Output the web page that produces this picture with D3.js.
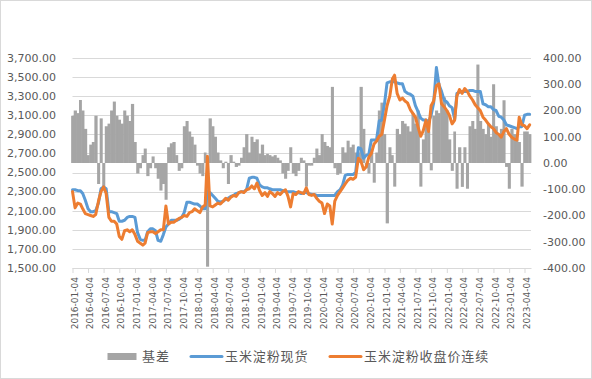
<!DOCTYPE html>
<html><head><meta charset="utf-8">
<script src="https://cdn.jsdelivr.net/npm/d3@7"></script>
<style>body{margin:0;background:#fff}svg{display:block}</style>
</head><body><svg id="c" width="592" height="379"></svg>
<script>
// Semi-monthly sample dates (4th and 19th of each month), Jan 2016 – May 2023
const dates = d3.range(177).map(h => {
  const m = Math.floor(h / 2);
  return new Date(2016 + Math.floor(m / 12), m % 12, h % 2 ? 19 : 4);
});
// 玉米淀粉现货 (spot)
const spot = [2320,2320,2310,2310,2280,2210,2120,2090,2090,2100,2180,2330,
2350,2330,2090,2090,2080,2070,1990,1990,2000,2030,2040,2040,
2030,1870,1800,1790,1790,1880,1910,1910,1890,1790,1780,1850,
1930,1960,2000,2000,2000,2010,2030,2080,2190,2190,2180,2170,
2170,2150,2120,2120,2300,2290,2260,2230,2200,2190,2200,2220,
2230,2250,2260,2280,2290,2300,2300,2320,2440,2450,2450,2440,
2370,2350,2340,2340,2330,2320,2320,2320,2320,2310,2300,2300,
2300,2300,2290,2290,2280,2290,2290,2280,2270,2270,2260,2260,
2260,2260,2260,2260,2260,2260,2300,2320,2370,2470,2480,2480,
2480,2500,2760,2750,2650,2680,2690,2840,2840,2850,3040,3050,
3220,3440,3450,3450,3450,3440,3430,3430,3350,3330,3320,3300,
3200,3140,3070,3050,3050,3030,3100,3230,3600,3420,3350,3260,
3240,3200,3180,3060,3330,3340,3350,3350,3350,3360,3360,3350,
3350,3350,3220,3210,3190,3190,3160,3150,3090,3080,3050,3000,
2990,2980,2970,2960,2980,2980,3100,3110,3110];
// 玉米淀粉收盘价连续 (futures)
const futures = [2300,2130,2180,2170,2120,2070,2060,2050,2040,2060,2200,2300,
2350,2280,2030,1990,1990,1960,1830,1800,1890,1900,1880,1900,
1850,1780,1760,1740,1760,1870,1880,1880,1860,1880,1900,1900,
2150,1960,1980,1980,2000,2020,2030,2050,2040,2080,2090,2120,
2100,2080,2140,2160,2670,2150,2140,2160,2180,2170,2200,2230,
2210,2240,2260,2250,2290,2300,2290,2320,2330,2360,2330,2390,
2310,2260,2290,2250,2300,2280,2250,2290,2270,2300,2320,2250,
2140,2280,2270,2300,2290,2280,2340,2270,2260,2270,2230,2200,
2180,2070,2170,2150,1960,2200,2260,2300,2340,2380,2420,2440,
2430,2450,2650,2620,2530,2560,2660,2700,2800,2830,2880,2900,
3050,3200,3300,3480,3520,3330,3260,3280,3250,3230,3160,3120,
3080,2980,2880,2940,3050,2930,3200,3250,3410,3430,3220,3190,
3150,3100,3010,3050,3300,3370,3330,3380,3350,3300,3260,3210,
3180,3150,3080,3050,3010,2980,2960,2920,2900,2870,2930,2960,
2900,2870,2850,2840,3080,3000,2990,2960,3000];
// 基差 (basis, right axis)
const basis = [180,200,190,240,200,130,30,70,80,180,-80,170,
-100,140,150,200,234,180,165,150,200,180,160,225,
80,-40,-20,30,55,-50,-20,25,-20,-60,-105,-80,
-140,60,75,80,30,-30,-20,140,160,120,100,70,
-10,-40,-50,40,-395,170,140,100,40,10,-20,5,
-80,30,5,-15,-10,20,60,110,40,100,80,90,
35,70,30,35,30,25,30,20,10,-40,-60,-30,
60,-40,-50,-30,20,10,-90,-10,-10,20,55,30,
110,80,65,60,290,-20,-45,-40,60,40,85,60,
70,40,40,290,130,-20,-40,50,-75,40,200,230,
110,-230,60,30,-90,130,110,160,150,140,120,190,
150,200,-90,90,150,120,-28,180,200,190,230,250,
200,90,-30,120,-98,60,-91,60,-98,140,160,130,
375,160,130,110,150,100,300,140,110,130,239,-15,
-98,130,110,90,80,-90,120,120,110];
const tickDates = d3.range(30).map(q => new Date(2016 + Math.floor(q / 4), (q % 4) * 3, 4));
const leftTicks = d3.range(1500, 3701, 200);
const rightTicks = d3.range(-400, 401, 100);
const seriesNames = ["基差", "玉米淀粉现货", "玉米淀粉收盘价连续"];
const colors = ["#a5a5a5", "#5b9bd5", "#ed7d31"];

const svg = d3.select("#c");
svg.append("rect").attr("x", 0.5).attr("y", 0.5).attr("width", 591).attr("height", 378)
  .attr("fill", "#fff").attr("stroke", "#d9d9d9");

const x = d3.scaleTime().domain([new Date(2016, 0, 4), new Date(2023, 4, 12)]).range([72.5, 531]);
const yL = d3.scaleLinear().domain([1500, 3700]).range([268, 58]);
const yR = d3.scaleLinear().domain([-400, 400]).range([268, 58]);
const loc = d3.formatLocale({decimal: ".", thousands: ",", grouping: [3], currency: ["", ""], minus: "-"});
const fL = loc.format(",.2f"), fR = loc.format(".2f");
const numFont = "DejaVu Sans";

// gridlines
svg.append("g").selectAll("line").data(leftTicks).join("line")
  .attr("x1", 72.5).attr("x2", 531)
  .attr("y1", d => Math.round(yL(d)) + 0.5).attr("y2", d => Math.round(yL(d)) + 0.5)
  .attr("stroke", "#d9d9d9").attr("stroke-width", 1);

// basis bars
const bars = svg.append("g");
bars.selectAll("rect").data(basis).join("rect")
  .attr("x", (d, i) => x(dates[i]) - 1.35)
  .attr("width", (d, i) => (i < dates.length - 1 ? x(dates[i + 1]) - x(dates[i]) : 2.6) + 0.5)
  .attr("y", d => Math.min(yR(d), yR(0)))
  .attr("height", d => Math.abs(yR(d) - yR(0)))
  .attr("fill", colors[0]);

// lines
const line = yS => d3.line().x((d, i) => x(dates[i])).y(d => yS(d));
svg.append("path").datum(spot).attr("d", line(yL)).attr("fill", "none")
  .attr("stroke", colors[1]).attr("stroke-width", 3).attr("stroke-linejoin", "round").attr("stroke-linecap", "round");
svg.append("path").datum(futures).attr("d", line(yL)).attr("fill", "none")
  .attr("stroke", colors[2]).attr("stroke-width", 3).attr("stroke-linejoin", "round").attr("stroke-linecap", "round");

// x axis
const xa = svg.append("g").attr("transform", "translate(0,268)")
  .call(d3.axisBottom(x).tickValues(tickDates).tickFormat(d3.timeFormat("%Y-%m-%d")).tickSize(5).tickSizeOuter(0));
xa.select(".domain").attr("stroke", "#d9d9d9");
xa.selectAll(".tick line").attr("stroke", "#d9d9d9");
xa.selectAll(".tick text")
  .attr("transform", "rotate(-90)").attr("text-anchor", "end")
  .attr("x", -9).attr("y", 1.5).attr("dy", "0.35em")
  .attr("fill", "#595959").style("font-family", numFont).style("font-size", "9px");

// left axis labels
svg.append("g").selectAll("text").data(leftTicks).join("text")
  .attr("x", 56).attr("y", d => yL(d)).attr("dy", "0.35em").attr("text-anchor", "end")
  .attr("fill", "#595959").style("font-family", numFont).style("font-size", "11px")
  .text(d => fL(d));
// right axis labels
svg.append("g").selectAll("text").data(rightTicks).join("text")
  .attr("x", 543).attr("y", d => yR(d)).attr("dy", "0.35em").attr("text-anchor", "start")
  .attr("fill", "#595959").style("font-family", numFont).style("font-size", "11px")
  .text(d => fR(d));

// legend
const lg = svg.append("g").style("font-family", "'Noto Sans CJK SC', sans-serif").style("font-size", "13px")
  .attr("fill", "#595959").style("letter-spacing", "0.9px");
lg.append("rect").attr("x", 107.5).attr("y", 353).attr("width", 29).attr("height", 7).attr("fill", colors[0]);
lg.append("text").attr("x", 142).attr("y", 356.5).attr("dy", "0.36em").text(seriesNames[0]);
lg.append("line").attr("x1", 191).attr("x2", 222).attr("y1", 356.5).attr("y2", 356.5)
  .attr("stroke", colors[1]).attr("stroke-width", 3).attr("stroke-linecap", "round");
lg.append("text").attr("x", 225).attr("y", 356.5).attr("dy", "0.36em").text(seriesNames[1]);
lg.append("line").attr("x1", 330).attr("x2", 361).attr("y1", 356.5).attr("y2", 356.5)
  .attr("stroke", colors[2]).attr("stroke-width", 3).attr("stroke-linecap", "round");
lg.append("text").attr("x", 364).attr("y", 356.5).attr("dy", "0.36em").text(seriesNames[2]);
</script></body></html>
